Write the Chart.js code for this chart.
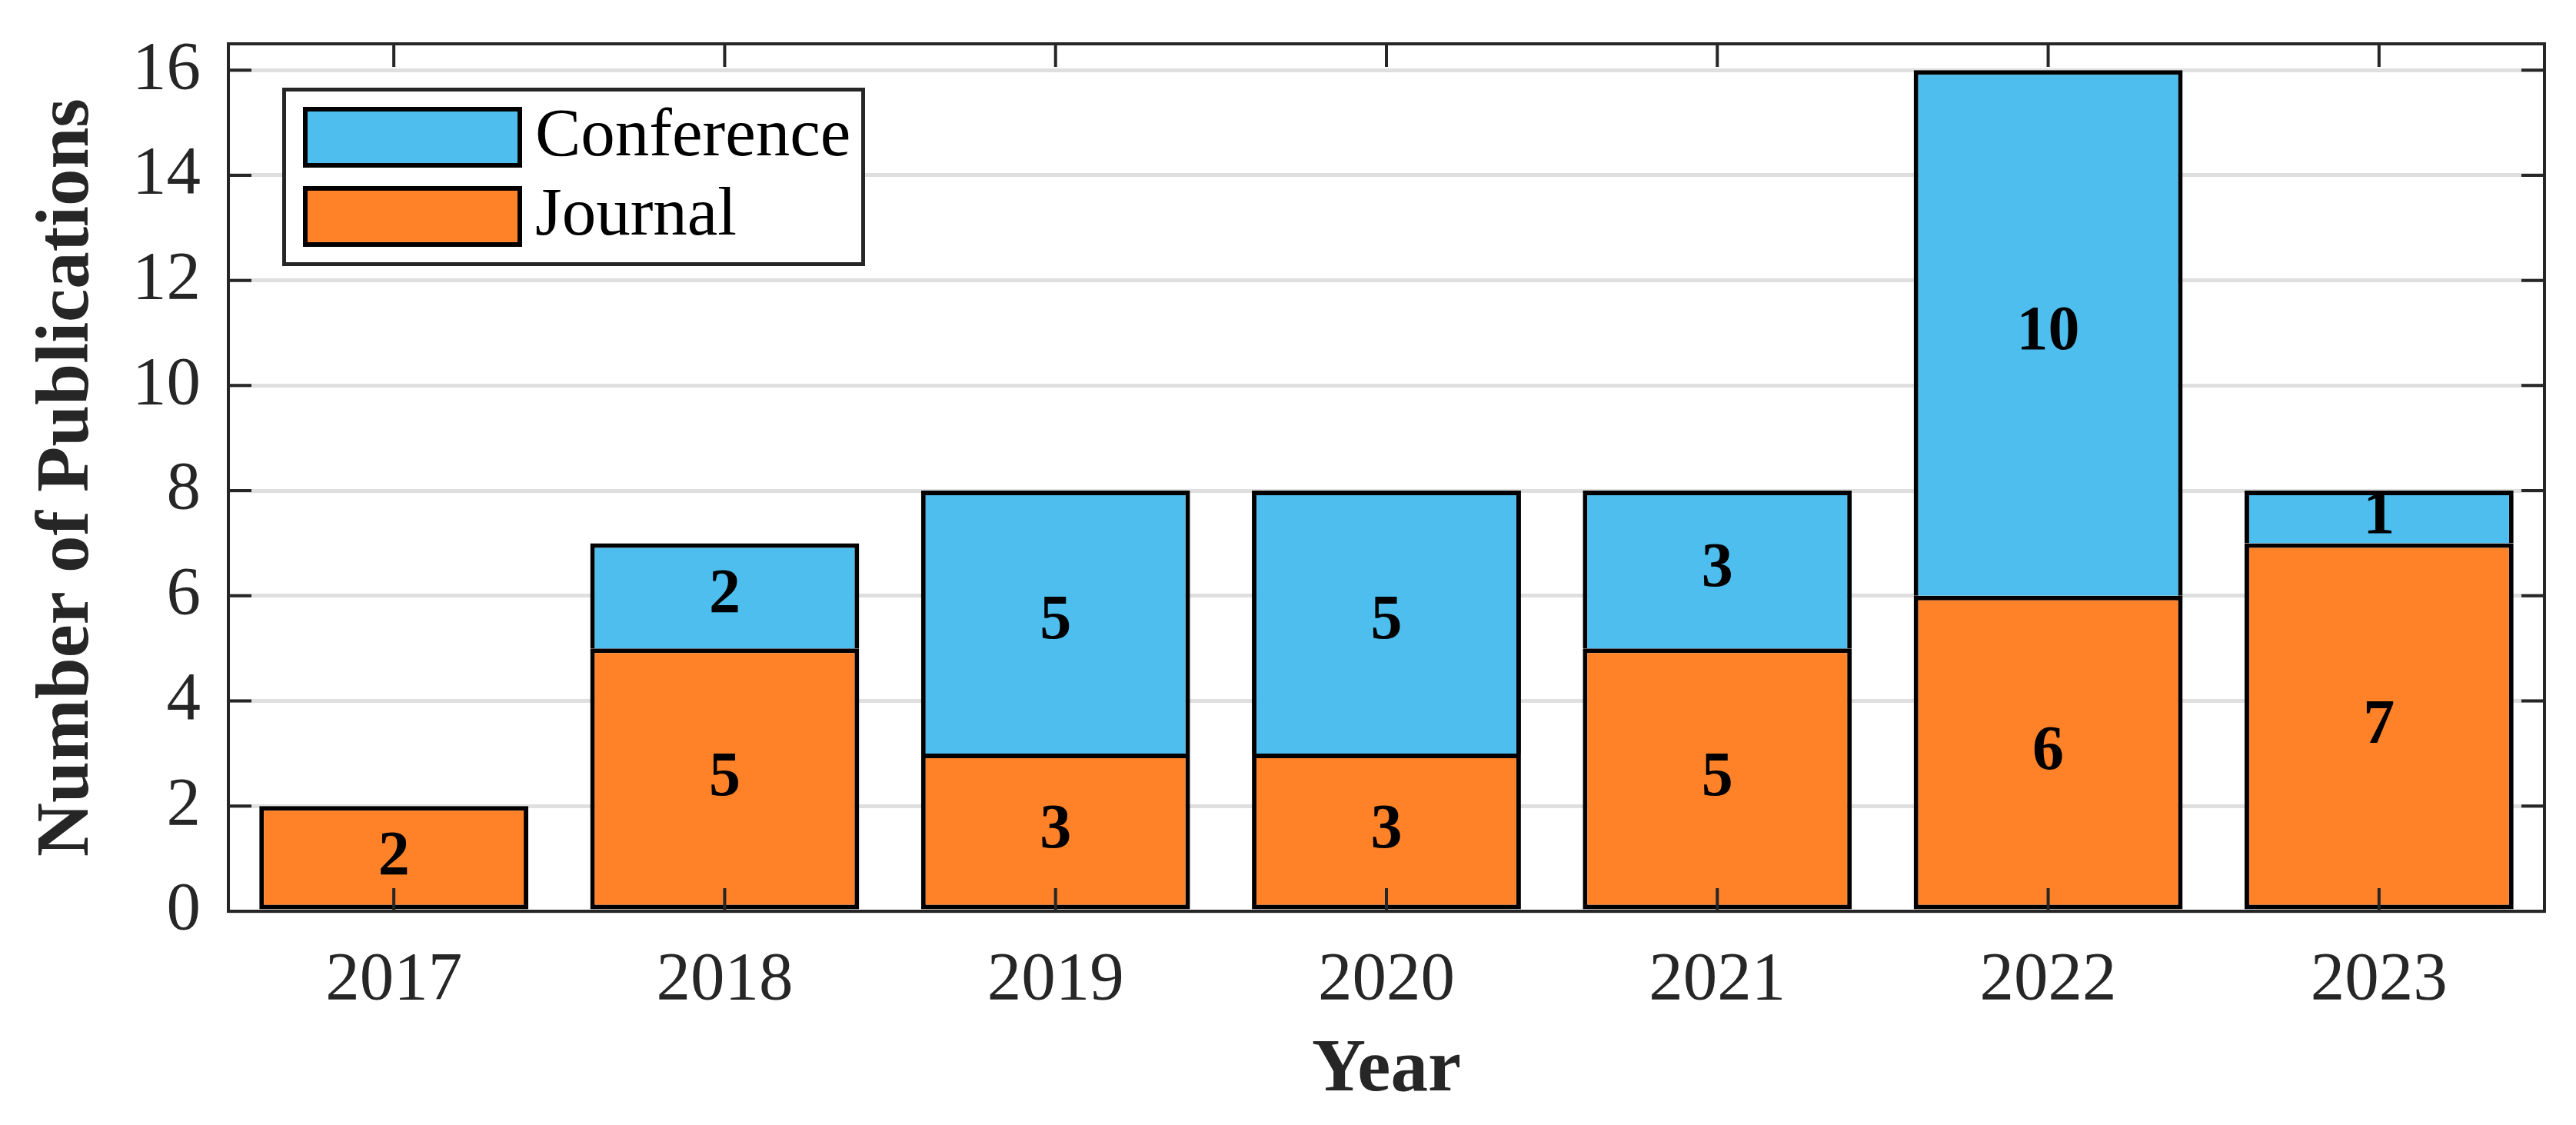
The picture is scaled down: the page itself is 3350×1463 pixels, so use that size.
<!DOCTYPE html>
<html>
<head>
<meta charset="utf-8">
<script src="https://cdn.jsdelivr.net/npm/chart.js@4.4.0/dist/chart.umd.min.js"></script>
<style>
  html, body { margin: 0; padding: 0; background: #ffffff; }
  #wrap { width: 3350px; height: 1463px; position: relative; }
</style>
</head>
<body>
<div id="wrap"><canvas id="c"></canvas></div>
<script>
const years = ['2017', '2018', '2019', '2020', '2021', '2022', '2023'];
const journal = [2, 5, 3, 3, 5, 6, 7];
const conference = [0, 2, 5, 5, 3, 10, 1];
const yTickStep = 2;
const yMax = 16.5;

const FONT = "'Liberation Serif', 'Times New Roman', serif";
const AXIS = '#262626';
const BLUE = '#4DBEEE';
const ORANGE = '#FF8229';

const framePlugin = {
  id: 'frame',
  afterDatasetsDraw(chart) {
    const {ctx, chartArea: a, scales} = chart;
    const tl = 30;
    ctx.save();
    ctx.strokeStyle = AXIS;
    ctx.lineWidth = 4;
    ctx.lineCap = 'butt';
    ctx.beginPath();
    const xs = scales.x;
    for (let i = 0; i < xs.ticks.length; i++) {
      const px = xs.getPixelForTick(i);
      ctx.moveTo(px, a.bottom); ctx.lineTo(px, a.bottom - tl);
      ctx.moveTo(px, a.top); ctx.lineTo(px, a.top + tl);
    }
    const ys = scales.y;
    for (let i = 0; i < ys.ticks.length; i++) {
      const py = ys.getPixelForTick(i);
      ctx.moveTo(a.left, py); ctx.lineTo(a.left + tl, py);
      ctx.moveTo(a.right, py); ctx.lineTo(a.right - tl, py);
    }
    ctx.stroke();
    ctx.strokeRect(a.left, a.top, a.right - a.left, a.bottom - a.top);
    ctx.restore();

    // value labels centred in each stacked segment
    ctx.save();
    ctx.fillStyle = '#000000';
    ctx.font = "bold 82px " + FONT;
    ctx.textAlign = 'center';
    ctx.textBaseline = 'middle';
    chart.data.datasets.forEach((ds, di) => {
      const meta = chart.getDatasetMeta(di);
      meta.data.forEach((el, i) => {
        const v = ds.data[i];
        if (!v) return;
        const p = el.getProps(['x', 'y', 'base'], true);
        ctx.fillText(String(v), p.x, (p.y + p.base) / 2);
      });
    });
    ctx.restore();

    // legend box inside the plot area
    const lx = a.left + 72.5, ly = a.top + 59.5, lw = 753, lh = 227;
    ctx.save();
    ctx.fillStyle = '#ffffff';
    ctx.fillRect(lx, ly, lw, lh);
    ctx.strokeStyle = AXIS;
    ctx.lineWidth = 5;
    ctx.strokeRect(lx, ly, lw, lh);
    const items = chart.data.datasets.slice().reverse();
    items.forEach((ds, k) => {
      const sy = a.top + 85 + k * 103;
      ctx.fillStyle = ds.backgroundColor;
      ctx.fillRect(a.left + 100, sy, 279, 73);
      ctx.strokeStyle = '#000000';
      ctx.lineWidth = 6;
      ctx.strokeRect(a.left + 100, sy, 279, 73);
      ctx.fillStyle = '#000000';
      ctx.font = "89px " + FONT;
      ctx.textAlign = 'left';
      ctx.textBaseline = 'middle';
      ctx.fillText(ds.label, a.left + 399, sy + 37);
    });
    ctx.restore();
  }
};

new Chart(document.getElementById('c'), {
  type: 'bar',
  data: {
    labels: years,
    datasets: [
      { label: 'Journal', data: journal, backgroundColor: ORANGE, borderColor: '#000000',
        borderWidth: 6, borderSkipped: false, barPercentage: 0.813, categoryPercentage: 1.0 },
      { label: 'Conference', data: conference, backgroundColor: BLUE, borderColor: '#000000',
        borderWidth: {top: 6, left: 6, right: 6, bottom: 0}, borderSkipped: false,
        barPercentage: 0.813, categoryPercentage: 1.0 }
    ]
  },
  options: {
    responsive: true,
    maintainAspectRatio: false,
    animation: false,
    devicePixelRatio: 1,
    layout: { padding: { left: 0, top: 57, right: 41, bottom: 0 } },
    plugins: { legend: { display: false }, tooltip: { enabled: false } },
    scales: {
      x: {
        stacked: true,
        grid: { display: false, drawTicks: false },
        border: { display: false },
        ticks: { color: AXIS, font: { family: FONT, size: 89, lineHeight: 1 }, padding: 46 },
        title: { display: true, text: 'Year', color: AXIS,
                 font: { family: FONT, size: 97, weight: 'bold', lineHeight: 1 },
                 padding: { top: 0, bottom: 22 } },
        afterFit(s) { s.height = 278; }
      },
      y: {
        stacked: true,
        min: 0, max: yMax,
        grid: { color: '#dfdfdf', lineWidth: 5, drawTicks: false },
        border: { display: false },
        ticks: { stepSize: yTickStep, includeBounds: false, color: AXIS,
                 font: { family: FONT, size: 89, lineHeight: 0.4 }, padding: 36 },
        title: { display: true, text: 'Number of Publications', color: AXIS,
                 font: { family: FONT, size: 97, weight: 'bold', lineHeight: 1 },
                 padding: { top: 40, bottom: 0 } },
        afterFit(s) { s.width = 297; }
      }
    }
  },
  plugins: [framePlugin]
});
</script>
</body>
</html>
